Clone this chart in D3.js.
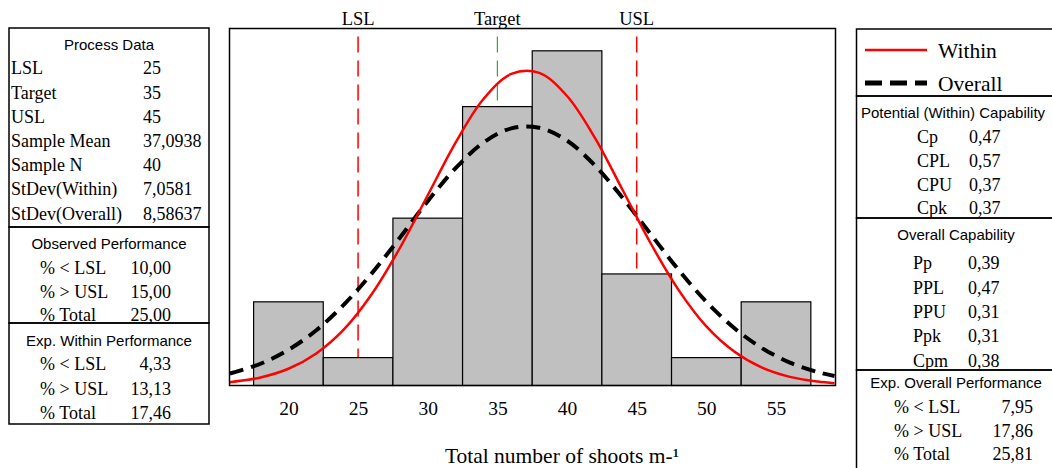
<!DOCTYPE html>
<html lang="en">
<head>
    <meta charset="UTF-8">
    <title>Process Capability</title>
    <script src="https://cdn.jsdelivr.net/npm/d3@7"></script>
    <style>
        body { margin: 0; background: #fff; }
        text { fill: #000; }
        .serif { font-family: "Liberation Serif", "Times New Roman", serif; }
        .sans { font-family: "Liberation Sans", Arial, sans-serif; }
    </style>
</head>
<body>
<script>
    var width = 1052;
    var height = 468;

    // histogram
    var binCenters = [20, 25, 30, 35, 40, 45, 50, 55];
    var binCounts = [3, 1, 6, 10, 12, 4, 1, 3];
    var binWidth = 5;
    var xTicks = [20, 25, 30, 35, 40, 45, 50, 55];

    // spec limits
    var specNames = ["LSL", "Target", "USL"];
    var specValues = [25, 35, 45];
    var specColors = ["#ff0000", "#33aa33", "#ff0000"];

    // fitted curves (counts per bin)
    var curveX = [15.8, 18, 20, 22, 24, 26, 28, 30, 32, 34, 36, 38, 40, 42, 44, 46, 48, 50, 52, 54, 56, 58, 59.2];
    var withinFit = [0.12, 0.29, 0.60, 1.15, 2.02, 3.29, 4.93, 6.82, 8.71, 10.27, 11.17, 11.21, 10.38, 8.88, 7.00, 5.10, 3.43, 2.12, 1.22, 0.64, 0.31, 0.14, 0.08];
    var overallFit = [0.43, 0.78, 1.28, 1.98, 2.91, 4.03, 5.30, 6.61, 7.79, 8.71, 9.22, 9.24, 8.78, 7.89, 6.72, 5.43, 4.15, 3.00, 2.06, 1.34, 0.82, 0.48, 0.34];

    // left tables
    var processLabels = ["LSL", "Target", "USL", "Sample Mean", "Sample N", "StDev(Within)", "StDev(Overall)"];
    var processValues = ["25", "35", "45", "37,0938", "40", "7,0581", "8,58637"];
    var perfLabels = ["% < LSL", "% > USL", "% Total"];
    var observedValues = ["10,00", "15,00", "25,00"];
    var expWithinValues = ["4,33", "13,13", "17,46"];

    // right tables
    var potentialLabels = ["Cp", "CPL", "CPU", "Cpk"];
    var potentialValues = ["0,47", "0,57", "0,37", "0,37"];
    var overallLabels = ["Pp", "PPL", "PPU", "Ppk", "Cpm"];
    var overallValues = ["0,39", "0,47", "0,31", "0,31", "0,38"];
    var expOverallValues = ["7,95", "17,86", "25,81"];

    var svg = d3.select("body")
        .append("svg")
        .attr("width", width)
        .attr("height", height);

    var plot = {left: 229.5, right: 835.5, top: 28.5, bottom: 385.5};

    var x = d3.scaleLinear()
        .domain([15.77, 59.27])
        .range([plot.left, plot.right]);

    var y = d3.scaleLinear()
        .domain([0, 12.8])
        .range([plot.bottom, plot.top]);

    svg.append("clipPath").attr("id", "clip")
        .append("rect")
        .attr("x", plot.left).attr("y", plot.top)
        .attr("width", plot.right - plot.left)
        .attr("height", plot.bottom - plot.top);

    // spec lines (behind the bars)
    svg.selectAll(".spec")
        .data(specValues)
        .enter()
        .append("line")
        .attr("x1", function (d) { return x(d); })
        .attr("x2", function (d) { return x(d); })
        .attr("y1", 36.5)
        .attr("y2", plot.bottom)
        .attr("stroke", function (d, i) { return specColors[i]; })
        .attr("stroke-width", function (d, i) { return i == 1 ? 1.2 : 1.5; })
        .attr("stroke-dasharray", "16,8");

    svg.selectAll(".specLabel")
        .data(specNames)
        .enter()
        .append("text")
        .attr("class", "serif")
        .attr("x", function (d, i) { return x(specValues[i]); })
        .attr("y", 25)
        .attr("text-anchor", "middle")
        .attr("font-size", 18.5)
        .text(function (d) { return d; });

    // bars
    svg.selectAll(".bar")
        .data(binCounts)
        .enter()
        .append("rect")
        .attr("x", function (d, i) { return x(binCenters[i] - binWidth / 2); })
        .attr("y", function (d) { return y(d); })
        .attr("width", function (d, i) { return x(binCenters[i] + binWidth / 2) - x(binCenters[i] - binWidth / 2); })
        .attr("height", function (d) { return y(0) - y(d); })
        .attr("fill", "#c0c0c0")
        .attr("stroke", "#000")
        .attr("stroke-width", 1.2);

    // fitted curves
    var line = d3.line()
        .x(function (d, i) { return x(curveX[i]); })
        .y(function (d) { return y(d); })
        .curve(d3.curveCatmullRom);

    svg.append("path")
        .datum(overallFit)
        .attr("clip-path", "url(#clip)")
        .attr("d", line)
        .attr("fill", "none")
        .attr("stroke", "#000")
        .attr("stroke-width", 4)
        .attr("stroke-dasharray", "14,8");

    svg.append("path")
        .datum(withinFit)
        .attr("clip-path", "url(#clip)")
        .attr("d", line)
        .attr("fill", "none")
        .attr("stroke", "#ff0000")
        .attr("stroke-width", 2.5);

    // frame
    svg.append("rect")
        .attr("x", plot.left).attr("y", plot.top)
        .attr("width", plot.right - plot.left)
        .attr("height", plot.bottom - plot.top)
        .attr("fill", "none")
        .attr("stroke", "#000")
        .attr("stroke-width", 1.5);

    // x axis labels
    var xAxis = d3.axisBottom(x).tickValues(xTicks).tickSize(0).tickPadding(16);
    var gx = svg.append("g")
        .attr("transform", "translate(0," + plot.bottom + ")")
        .call(xAxis);
    gx.select(".domain").remove();
    gx.selectAll("text")
        .attr("class", "serif")
        .attr("font-family", "Liberation Serif, serif")
        .attr("font-size", 19.5)
        .attr("fill", "#000");

    svg.append("text")
        .attr("class", "serif")
        .attr("x", 562)
        .attr("y", 463)
        .attr("text-anchor", "middle")
        .attr("font-size", 21.5)
        .text("Total number of shoots m-\u00B9");

    // helpers for the tables
    function box(x0, y0, x1, y1) {
        svg.append("rect")
            .attr("x", x0).attr("y", y0)
            .attr("width", x1 - x0).attr("height", y1 - y0)
            .attr("fill", "none")
            .attr("stroke", "#000")
            .attr("stroke-width", 1.5);
    }

    function title(txt, cx, cy) {
        svg.append("text")
            .attr("class", "sans")
            .attr("x", cx).attr("y", cy)
            .attr("dy", "0.35em")
            .attr("text-anchor", "middle")
            .attr("font-size", 15)
            .text(txt);
    }

    function rows(labels, values, lx, vx, vAnchor, y0, step) {
        var g = svg.append("g").attr("class", "serif").attr("font-size", 18);
        g.selectAll(".lab")
            .data(labels)
            .enter()
            .append("text")
            .attr("x", lx)
            .attr("y", function (d, i) { return y0 + i * step; })
            .attr("dy", "0.35em")
            .text(function (d) { return d; });
        g.selectAll(".val")
            .data(values)
            .enter()
            .append("text")
            .attr("x", vx)
            .attr("y", function (d, i) { return y0 + i * step; })
            .attr("dy", "0.35em")
            .attr("text-anchor", vAnchor)
            .text(function (d) { return d; });
    }

    // left side
    box(9, 28, 209, 227);
    title("Process Data", 109, 45);
    rows(processLabels, processValues, 11, 143, "start", 68, 24.2);

    box(9, 227, 209, 323);
    title("Observed Performance", 109, 244);
    rows(perfLabels, observedValues, 40, 171, "end", 268, 23.5);

    box(9, 323, 209, 424);
    title("Exp. Within Performance", 109, 341);
    rows(perfLabels, expWithinValues, 40, 171, "end", 364, 24.5);

    // right side
    box(856.5, 29, 1060, 96);
    box(856.5, 96, 1060, 218);
    box(856.5, 218, 1060, 370);
    box(856.5, 370, 1060, 470);

    svg.append("line")
        .attr("x1", 865).attr("x2", 927).attr("y1", 50).attr("y2", 50)
        .attr("stroke", "#ff0000").attr("stroke-width", 2.5);
    svg.append("line")
        .attr("x1", 865).attr("x2", 927).attr("y1", 83).attr("y2", 83)
        .attr("stroke", "#000").attr("stroke-width", 5)
        .attr("stroke-dasharray", "17,8");
    svg.selectAll(".leg")
        .data(["Within", "Overall"])
        .enter()
        .append("text")
        .attr("class", "serif")
        .attr("x", 938)
        .attr("y", function (d, i) { return i == 0 ? 50 : 83; })
        .attr("dy", "0.35em")
        .attr("font-size", 21.5)
        .text(function (d) { return d; });

    title("Potential (Within) Capability", 953, 113);
    rows(potentialLabels, potentialValues, 917, 969, "start", 137, 23.7);

    title("Overall Capability", 956, 235);
    rows(overallLabels, overallValues, 913, 968, "start", 263, 24.3);

    title("Exp. Overall Performance", 956, 383);
    rows(perfLabels, expOverallValues, 894, 1033, "end", 407, 23.5);
</script>
</body>
</html>
